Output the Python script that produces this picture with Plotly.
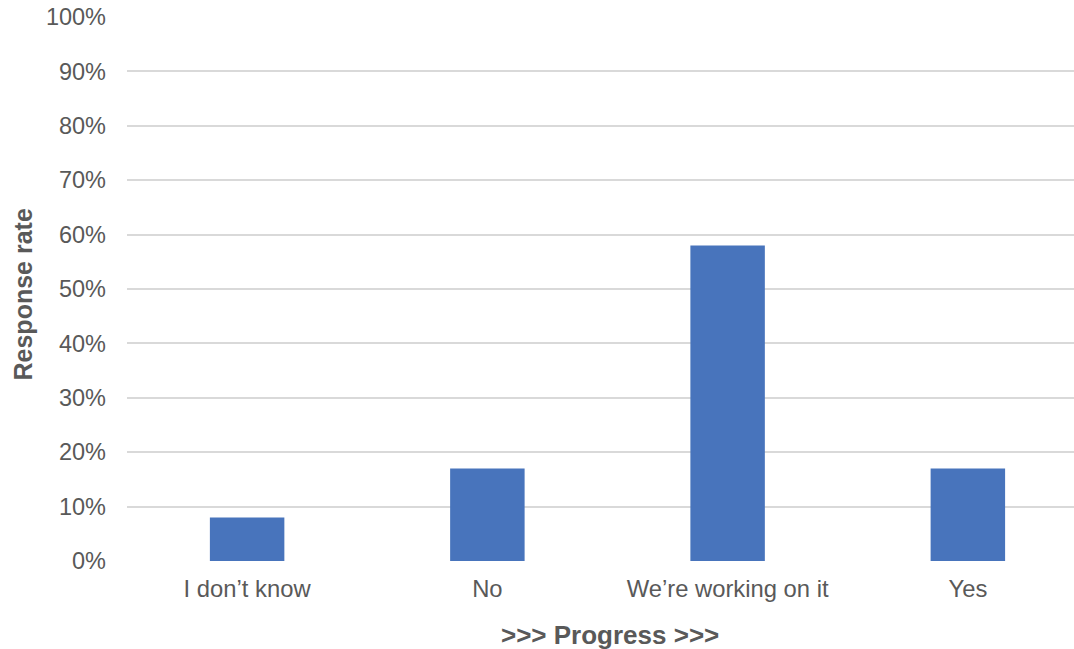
import plotly.graph_objects as go

categories = ["I don\u2019t know", "No", "We\u2019re working on it", "Yes"]
values = [0.08, 0.17, 0.58, 0.17]
y_ticks = [i / 10 for i in range(11)]
y_ticklabels = [f"{i*10}%" for i in range(11)]

W, H = 1074, 649
L, R, T, B = 127, 0, 17, 88
pw = W - L - R
ph = H - T - B
xmax = 3.5 - 14 / 240.5

text_color = "#595959"
font_family = "Liberation Sans, Arial, sans-serif"

fig = go.Figure()
fig.add_trace(go.Bar(
    x=list(range(len(categories))),
    y=values,
    width=0.31,
    marker=dict(color="#4874BC", line=dict(width=0)),
))

fig.update_layout(
    width=W, height=H,
    margin=dict(l=L, r=R, t=T, b=B, pad=0),
    paper_bgcolor="white",
    plot_bgcolor="white",
    showlegend=False,
    font=dict(family=font_family, color=text_color, size=24),
    xaxis=dict(
        range=[-0.5, xmax],
        tickmode="array",
        tickvals=list(range(len(categories))),
        ticktext=categories,
        showgrid=False,
        zeroline=False,
        showline=False,
        ticks="",
        ticklabelstandoff=11,
        tickfont=dict(size=23.8, color=text_color),
    ),
    yaxis=dict(
        range=[0, 1],
        tickmode="array",
        tickvals=y_ticks,
        ticktext=y_ticklabels,
        showgrid=True,
        gridcolor="#D9D9D9",
        gridwidth=1.5,
        zeroline=False,
        showline=False,
        ticks="",
        ticklabelstandoff=20,
        tickfont=dict(size=23.5, color=text_color),
    ),
    annotations=[
        dict(
            text="<b>Response rate</b>",
            xref="paper", yref="paper",
            x=(22 - L) / pw, y=(T + ph - 294.5) / ph,
            xanchor="center", yanchor="middle",
            textangle=-90, showarrow=False,
            font=dict(size=25, color=text_color, family=font_family),
        ),
        dict(
            text="<b>>>> Progress >>></b>",
            xref="paper", yref="paper",
            x=(610 - L) / pw, y=(T + ph - 635) / ph,
            xanchor="center", yanchor="middle",
            showarrow=False,
            font=dict(size=26, color=text_color, family=font_family),
        ),
    ],
)

fig.write_html("out.html")
